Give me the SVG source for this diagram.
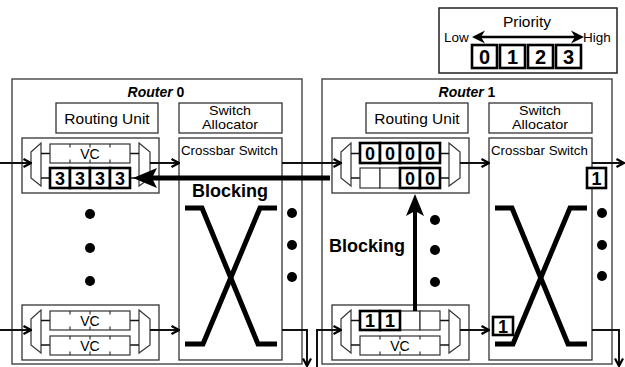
<svg xmlns="http://www.w3.org/2000/svg" width="625" height="367" viewBox="0 0 625 367">
<style>
text{font-family:"Liberation Sans",Arial,sans-serif;fill:#000}
.box{fill:#fff;stroke:#333;stroke-width:1.3}
.rbox{fill:#fff;stroke:#444;stroke-width:1.4}
.mux{fill:#fff;stroke:#333;stroke-width:1.2}
.vc{fill:#fff;stroke:#333;stroke-width:1.2}
.tick{stroke:#333;stroke-width:1.2}
.cell{fill:#fff;stroke:#000;stroke-width:2.6}
.tcell{fill:#fff;stroke:#333;stroke-width:1.2}
.wire{stroke:#111;stroke-width:2;fill:none}
.lbl{font-size:15.5px;text-anchor:middle}
.sa{font-size:13px;text-anchor:middle}
.cs{font-size:13.3px}
.vct{font-size:14px;text-anchor:middle}
.dig{font-size:18px;font-weight:bold;text-anchor:middle}
.title{font-size:14px;font-weight:bold;text-anchor:middle}
.blk{font-size:18px;font-weight:bold;text-anchor:middle}
.xbar{stroke:#000;stroke-width:5;fill:none}
.dot{fill:#000}
</style>
<defs>
<marker id="ah" viewBox="0 0 10 10" refX="9" refY="5" markerWidth="10" markerHeight="10" markerUnits="userSpaceOnUse" orient="auto">
<path d="M1.5,1 L9,5 L1.5,9" fill="none" stroke="#000" stroke-width="2.2"/>
</marker>
<g id="ticks">
<line class="tick" x1="70" y1="0" x2="70" y2="3.5"/><line class="tick" x1="90" y1="0" x2="90" y2="3.5"/><line class="tick" x1="110" y1="0" x2="110" y2="3.5"/>
<line class="tick" x1="70" y1="15.5" x2="70" y2="19"/><line class="tick" x1="90" y1="15.5" x2="90" y2="19"/><line class="tick" x1="110" y1="15.5" x2="110" y2="19"/>
</g>
<g id="iuframe">
<rect class="box" x="22" y="138" width="137" height="55"/>
<polygon class="mux" points="31,152 41,143 41,186 31,178"/>
<polygon class="mux" points="139,143 150,152 150,178 139,186"/>
<line class="wire" x1="41" y1="153.5" x2="50" y2="153.5" style="stroke-width:1.5"/>
<line class="wire" x1="41" y1="178" x2="50" y2="178" style="stroke-width:1.5"/>
<line class="wire" x1="130" y1="153.5" x2="139" y2="153.5" style="stroke-width:1.5"/>
<line class="wire" x1="130" y1="178" x2="139" y2="178" style="stroke-width:1.5"/>
</g>
</defs>

<g id="priority-legend">
<rect x="439" y="8" width="178" height="65" fill="#fff" stroke="#222" stroke-width="1.5"/>
<text x="527" y="27" style="font-size:15.5px;text-anchor:middle">Priority</text>
<text x="444" y="42" style="font-size:13.5px">Low</text>
<text x="583" y="42" style="font-size:13.5px">High</text>
<line x1="480" y1="37" x2="576" y2="37" stroke="#000" stroke-width="2.5"/>
<polygon points="472,37 485,30.5 481,37 485,43.5" fill="#000"/>
<polygon points="584,37 571,30.5 575,37 571,43.5" fill="#000"/>
<rect class="cell" x="472" y="45" width="25" height="23"/>
<rect class="cell" x="500" y="45" width="25" height="23"/>
<rect class="cell" x="528" y="45" width="25" height="23"/>
<rect class="cell" x="556" y="45" width="25" height="23"/>
<text class="dig" x="484.5" y="64" style="font-size:20px">0</text>
<text class="dig" x="512.5" y="64" style="font-size:20px">1</text>
<text class="dig" x="540.5" y="64" style="font-size:20px">2</text>
<text class="dig" x="568.5" y="64" style="font-size:20px">3</text>
</g>

<g id="router0">
<rect class="rbox" x="12" y="79" width="290" height="285"/>
<text class="title" x="156" y="97"><tspan font-style="italic">Router</tspan> 0</text>
<g id="r0-routing-unit">
<rect class="box" x="56" y="103" width="102" height="30"/>
<text class="lbl" x="107" y="124">Routing Unit</text>
</g>
<g id="r0-switch-allocator">
<rect class="box" x="179" y="103" width="103" height="30"/>
<text class="sa" x="230" y="114.5" textLength="42" lengthAdjust="spacingAndGlyphs">Switch</text>
<text class="sa" x="230" y="129" textLength="56" lengthAdjust="spacingAndGlyphs">Allocator</text>
</g>
<g id="r0-crossbar">
<rect class="box" x="179" y="138" width="103" height="222"/>
<text class="cs" x="181" y="155">Crossbar Switch</text>
<path class="xbar" d="M185,208 H202 L258,344 H277"/>
<path class="xbar" d="M277,208 H260 L203,344 H185"/>
</g>
<g id="r0-input-top">
<use href="#iuframe"/>
<rect class="vc" x="50" y="144" width="80" height="19"/>
<use href="#ticks" transform="translate(0,144)"/>
<text class="vct" x="90" y="158.5">VC</text>
<rect class="cell" x="50" y="168" width="20" height="20"/>
<rect class="cell" x="70" y="168" width="20" height="20"/>
<rect class="cell" x="90" y="168" width="20" height="20"/>
<rect class="cell" x="110" y="168" width="20" height="20"/>
<text class="dig" x="60" y="185">3</text>
<text class="dig" x="80" y="185">3</text>
<text class="dig" x="100" y="185">3</text>
<text class="dig" x="120" y="185">3</text>
</g>
<g id="r0-input-bottom" transform="translate(0,167)">
<use href="#iuframe"/>
<rect class="vc" x="50" y="144" width="80" height="19"/>
<use href="#ticks" transform="translate(0,144)"/>
<text class="vct" x="90" y="158.5">VC</text>
<rect class="vc" x="50" y="169" width="80" height="19"/>
<use href="#ticks" transform="translate(0,169)"/>
<text class="vct" x="90" y="183.5">VC</text>
</g>
<g id="r0-dots">
<circle class="dot" cx="90" cy="214" r="5"/>
<circle class="dot" cx="90" cy="248" r="5"/>
<circle class="dot" cx="90" cy="281" r="5"/>
<circle class="dot" cx="292" cy="213" r="5"/>
<circle class="dot" cx="292" cy="245" r="5"/>
<circle class="dot" cx="292" cy="277" r="5"/>
</g>
</g>

<g id="router1">
<rect class="rbox" x="322" y="79" width="290" height="285"/>
<text class="title" x="467" y="97"><tspan font-style="italic">Router</tspan> 1</text>
<g id="r1-routing-unit">
<rect class="box" x="366" y="103" width="102" height="30"/>
<text class="lbl" x="417" y="124">Routing Unit</text>
</g>
<g id="r1-switch-allocator">
<rect class="box" x="489" y="103" width="103" height="30"/>
<text class="sa" x="540" y="114.5" textLength="42" lengthAdjust="spacingAndGlyphs">Switch</text>
<text class="sa" x="540" y="129" textLength="56" lengthAdjust="spacingAndGlyphs">Allocator</text>
</g>
<g id="r1-crossbar">
<rect class="box" x="489" y="138" width="103" height="222"/>
<text class="cs" x="491" y="155">Crossbar Switch</text>
<path class="xbar" d="M495,208 H512 L568,344 H587"/>
<path class="xbar" d="M587,208 H570 L513,344 H495"/>
<rect class="cell" x="587" y="168" width="19" height="20"/>
<text class="dig" x="596.5" y="185">1</text>
<rect class="cell" x="493" y="317" width="20" height="18"/>
<text class="dig" x="503" y="333">1</text>
</g>
<g id="r1-input-top" transform="translate(310,0)">
<use href="#iuframe"/>
<rect class="cell" x="50" y="143" width="20" height="20"/>
<rect class="cell" x="70" y="143" width="20" height="20"/>
<rect class="cell" x="90" y="143" width="20" height="20"/>
<rect class="cell" x="110" y="143" width="20" height="20"/>
<text class="dig" x="60" y="160">0</text>
<text class="dig" x="80" y="160">0</text>
<text class="dig" x="100" y="160">0</text>
<text class="dig" x="120" y="160">0</text>
<rect class="tcell" x="50" y="168" width="20" height="20"/>
<rect class="tcell" x="70" y="168" width="20" height="20"/>
<rect class="cell" x="90" y="168" width="20" height="20"/>
<rect class="cell" x="110" y="168" width="20" height="20"/>
<text class="dig" x="100" y="185">0</text>
<text class="dig" x="120" y="185">0</text>
</g>
<g id="r1-input-bottom" transform="translate(310,167)">
<use href="#iuframe"/>
<rect class="tcell" x="90" y="144" width="20" height="19"/>
<rect class="tcell" x="110" y="144" width="20" height="19"/>
<rect class="cell" x="50" y="144" width="20" height="19"/>
<rect class="cell" x="70" y="144" width="20" height="19"/>
<text class="dig" x="60" y="160">1</text>
<text class="dig" x="80" y="160">1</text>
<rect class="vc" x="50" y="169" width="80" height="19"/>
<use href="#ticks" transform="translate(0,169)"/>
<text class="vct" x="90" y="183.5">VC</text>
</g>
<g id="r1-dots">
<circle class="dot" cx="435" cy="220" r="5"/>
<circle class="dot" cx="435" cy="250" r="5"/>
<circle class="dot" cx="435" cy="282" r="5"/>
<circle class="dot" cx="602" cy="213" r="5"/>
<circle class="dot" cx="602" cy="245" r="5"/>
<circle class="dot" cx="602" cy="276" r="5"/>
</g>
</g>

<g id="connectors">
<path class="wire" d="M0,163 H31" marker-end="url(#ah)"/>
<path class="wire" d="M150,163 H179" marker-end="url(#ah)"/>
<path class="wire" d="M282,163 H341" marker-end="url(#ah)"/>
<path class="wire" d="M460,163 H489" marker-end="url(#ah)"/>
<path class="wire" d="M592,163 H624" marker-end="url(#ah)"/>
<path class="wire" d="M0,330 H31" marker-end="url(#ah)"/>
<path class="wire" d="M150,330 H179" marker-end="url(#ah)"/>
<path class="wire" d="M282,330 H307 V366" marker-end="url(#ah)"/>
<path class="wire" d="M317,367 V330 H341" marker-end="url(#ah)"/>
<path class="wire" d="M460,330 H489" marker-end="url(#ah)"/>
<path class="wire" d="M592,330 H619 V366" marker-end="url(#ah)"/>
<line x1="150" y1="178" x2="330" y2="178" stroke="#000" stroke-width="5"/>
<polygon points="133,178 157,168 152,178 157,188" fill="#000"/>
<line x1="415" y1="311" x2="415" y2="210" stroke="#000" stroke-width="4"/>
<polygon points="415,194 406,216 415,211 424,216" fill="#000"/>
<text class="blk" x="230" y="197">Blocking</text>
<text class="blk" x="367" y="252">Blocking</text>
</g>
</svg>
